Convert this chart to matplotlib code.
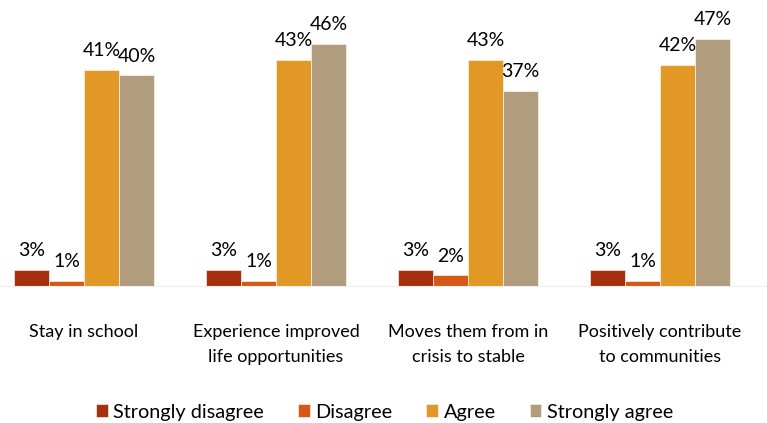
import numpy as np
import matplotlib.pyplot as plt

plt.rcParams['font.family'] = ['Lato', 'DejaVu Sans']

# ------------------------------------------------------------
# Data
# ------------------------------------------------------------
categories = ['Stay in school', 'Experience improved\nlife opportunities',
              'Moves them from in\ncrisis to stable', 'Positively contribute\nto communities']
series_names = ['Strongly disagree', 'Disagree', 'Agree', 'Strongly agree']
strongly_disagree = [3, 3, 3, 3]
disagree = [1, 1, 2, 1]
agree = [41, 43, 43, 42]
strongly_agree = [40, 46, 37, 47]
colors = ['#A5300F', '#D55816', '#E19825', '#B19C7D']

values = [strongly_disagree, disagree, agree, strongly_agree]

# ------------------------------------------------------------
# Figure
# ------------------------------------------------------------
W, H = 767, 423
fig = plt.figure(figsize=(W / 100, H / 100), dpi=100)
# axes covers pixel rows 0..286 (baseline) and full width
ax = fig.add_axes([0, 1 - 286 / H, 1, 286 / H])

px_per_cat = 192.0
x0 = 84.0
ax.set_xlim((0 - x0) / px_per_cat, (W - x0) / px_per_cat)
ax.set_ylim(0, 286 / 5.265)

x = np.arange(len(categories))
bw = 35 / px_per_cat
for i, (vals, col, name) in enumerate(zip(values, colors, series_names)):
    pos = x + (i - 1.5) * bw
    ax.bar(pos, vals, bw, color=col, label=name, edgecolor='white', linewidth=0.4)
    for p, v in zip(pos, vals):
        ax.annotate(f'{v}%', (p, v), xytext=(0, 10), textcoords='offset points',
                    ha='center', va='baseline', fontsize=14, color='#000000')

for s in ['top', 'right', 'left']:
    ax.spines[s].set_visible(False)
ax.spines['bottom'].set_color('#eeeeee')
ax.set_xticks([])
ax.set_yticks([])
ax.patch.set_alpha(0)

# category labels, one line at a time (baselines at 51 and 76 px below axis)
for xi, lab in zip(x, categories):
    for k, line in enumerate(lab.split('\n')):
        ax.annotate(line, (xi, 0), xytext=(0, -(51 + 25 * k) * 0.72),
                    textcoords='offset points', ha='center', va='baseline',
                    fontsize=13, annotation_clip=False)

handles, labels = ax.get_legend_handles_labels()
fig.legend(handles, labels, loc='center left', bbox_to_anchor=(96 / W, 1 - 412 / H), ncol=4,
           frameon=False, fontsize=14.3, borderpad=0, borderaxespad=0,
           handlelength=0.58, handleheight=0.58,
           handletextpad=0.3, columnspacing=1.7)

fig.savefig('out.png', dpi=100)
